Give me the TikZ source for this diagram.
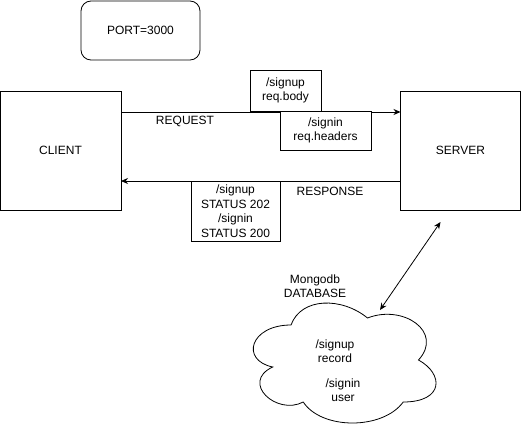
\documentclass[tikz,border=0pt]{standalone}
\usepackage{fontspec}
\setmainfont{Liberation Sans}
\usetikzlibrary{arrows.meta}

\begin{document}
\begin{tikzpicture}[x=1pt, y=1pt]
\tikzstyle{box} = [rectangle, draw = black, line width = 0.8pt, outer sep = 0pt, align = center, font = \fontsize{12}{14.5}\selectfont]
\tikzstyle{txt} = [align = center, font = \fontsize{12}{14.5}\selectfont]
\tikzstyle{edge} = [-{Stealth[length=7pt, width=6pt]}, line width = 0.8pt]
\tikzstyle{both} = [{Stealth[length=7pt, width=6pt]}-{Stealth[length=7pt, width=6pt]}, line width = 0.8pt]
\useasboundingbox (0, 0) rectangle (521, -431);
% -----------------------------------
% Port
\node[box, rounded corners = 10pt, minimum width = 119pt, minimum height = 59pt] (port) at (140.5, -30.5) {PORT=3000};

% -----------------------------------
% Client and server
\node[box, minimum width = 121pt, minimum height = 119pt] (client) at (60.5, -150.5) {CLIENT};
\node[box, minimum width = 120pt, minimum height = 119pt] (server) at (460.5, -150.5) {SERVER};

\draw[edge] ([yshift=-21pt]client.north east)--([yshift=-21pt]server.north west);
\draw[edge] ([yshift=29pt]server.south west)--([yshift=29pt]client.south east);

\node[txt] (request) at (185, -121) {REQUEST};
\node[txt] (response) at (330, -191) {RESPONSE};

\node[box, fill = white, minimum width = 71pt, minimum height = 41pt] (signupreq) at (285.5, -90.5) {/signup\\req.body};
\node[box, fill = white, minimum width = 91pt, minimum height = 39pt] (signinreq) at (325.5, -130.5) {/signin\\req.headers};
\node[box, fill = white, minimum width = 89pt, minimum height = 60pt] (status) at (235.5, -211) {/signup\\STATUS 202\\/signin\\STATUS 200};

% -----------------------------------
% Database
\node[txt] (mongo) at (315, -286) {Mongodb\\DATABASE};
\begin{scope}[shift = {(240, -290)}, x = 204pt, y = -140pt]
\draw[line width = 0.8pt] (0.25, 0.25)
  .. controls (0.05, 0.25) and (0, 0.5) .. (0.16, 0.55)
  .. controls (0, 0.66) and (0.18, 0.9) .. (0.31, 0.8)
  .. controls (0.4, 1) and (0.7, 1) .. (0.8, 0.8)
  .. controls (1, 0.8) and (1, 0.6) .. (0.875, 0.5)
  .. controls (1, 0.3) and (0.8, 0.1) .. (0.625, 0.2)
  .. controls (0.5, 0.05) and (0.3, 0.05) .. cycle;
\end{scope}
\node[txt] (record) at (335, -351) {/signup\\record};
\node[txt] (user) at (343, -390) {/signin\\user};

\coordinate (dblink) at ([xshift=-20pt, yshift=-12pt]server.south);
\coordinate (dbtip) at (380, -310);
\draw[both] (dblink)--(dbtip);
% -----------------------------------
\end{tikzpicture}
\end{document}
